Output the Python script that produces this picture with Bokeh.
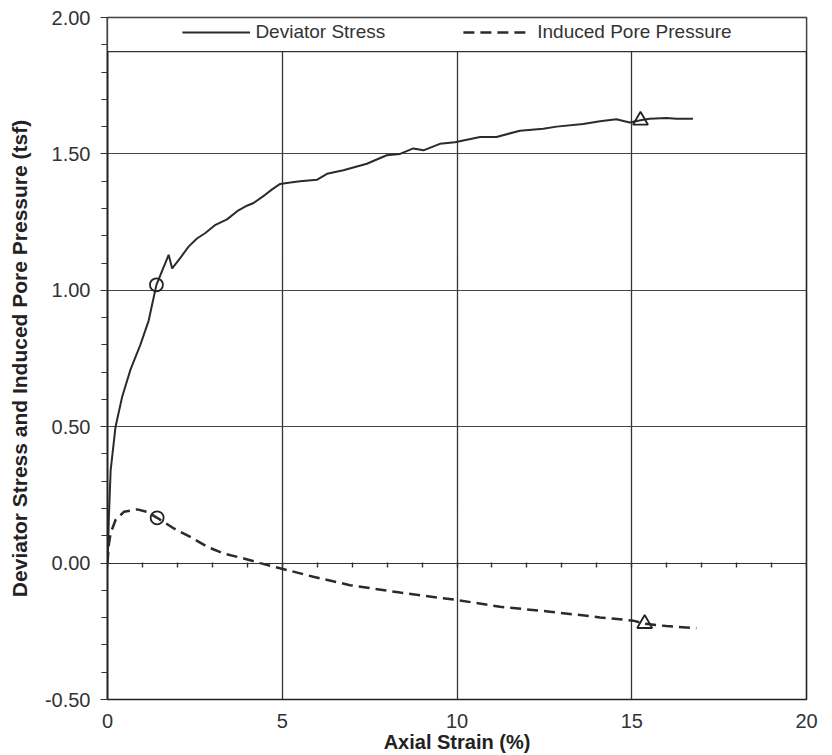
from bokeh.plotting import figure
from bokeh.models import (Range1d, LinearAxis, SingleIntervalTicker, NumeralTickFormatter,
                          Legend, LegendItem, BoxAnnotation, Grid)
from bokeh.embed import file_html
from bokeh.resources import INLINE

# Deviator stress (tsf) vs axial strain (%)
dev_strain = [0.0, 0.02, 0.04, 0.09, 0.23, 0.42, 0.66, 0.94, 1.18, 1.28, 1.40, 1.51, 1.75, 1.85,
              2.09, 2.32, 2.56, 2.80, 3.09, 3.42, 3.71, 3.99, 4.18, 4.51, 4.71, 4.94, 5.23, 5.51,
              5.99, 6.28, 6.75, 7.42, 7.99, 8.37, 8.75, 9.04, 9.51, 9.94, 10.66, 11.13, 11.80,
              12.47, 12.85, 13.61, 14.09, 14.56, 14.94, 15.25, 15.51, 15.99, 16.28, 16.75]
dev_stress = [0.0, 0.07, 0.17, 0.34, 0.50, 0.61, 0.71, 0.80, 0.89, 0.95, 1.02, 1.055, 1.13, 1.08,
              1.12, 1.16, 1.19, 1.21, 1.24, 1.26, 1.29, 1.31, 1.32, 1.35, 1.37, 1.39, 1.395, 1.40,
              1.405, 1.427, 1.44, 1.464, 1.495, 1.50, 1.52, 1.513, 1.537, 1.543, 1.562, 1.562, 1.585,
              1.592, 1.60, 1.61, 1.62, 1.627, 1.615, 1.623, 1.629, 1.632, 1.629, 1.629]

# Induced pore pressure (tsf) vs axial strain (%)
pore_strain = [0.0, 0.04, 0.09, 0.23, 0.47, 0.85, 1.13, 1.42, 1.90, 2.37, 2.85, 3.32, 3.90, 4.37,
               4.94, 5.89, 6.94, 8.37, 10.04, 11.23, 12.66, 14.09, 15.04, 15.37, 15.99, 16.85]
pore_pressure = [0.0, 0.07, 0.11, 0.158, 0.188, 0.197, 0.188, 0.166, 0.127, 0.096, 0.06, 0.035,
                 0.017, 0.0, -0.019, -0.05, -0.081, -0.108, -0.136, -0.16, -0.178, -0.199, -0.211,
                 -0.222, -0.231, -0.239]

# Marked points on each curve: circles and triangles
circle_strain = [1.40, 1.42]
circle_values = [1.02, 0.166]
triangle_strain = [15.25, 15.37]
triangle_values = [1.623, -0.222]

# Axis extents and tick spacing
x_limits = [0, 20]
y_limits = [-0.5, 2.0]
x_major_step = 5
y_major_step = 0.5
legend_band_bottom = 1.875

FONT = "Liberation Sans"
INK = "#2b2b2b"

p = figure(width=832, height=755, output_backend="svg", toolbar_location=None,
           x_range=Range1d(*x_limits), y_range=Range1d(*y_limits),
           x_axis_type=None, y_axis_type=None,
           min_border_left=107, min_border_right=26, min_border_top=17, min_border_bottom=56)
p.background_fill_color = "white"
p.border_fill_color = "white"
p.outline_line_color = "#222222"
p.outline_line_width = 1.6

# Left axis
yaxis = LinearAxis(ticker=SingleIntervalTicker(interval=y_major_step, num_minor_ticks=5),
                   formatter=NumeralTickFormatter(format="0.00"))
yaxis.axis_label = "Deviator Stress and Induced Pore Pressure (tsf)"
yaxis.axis_label_text_font = FONT
yaxis.axis_label_text_font_style = "bold"
yaxis.axis_label_text_font_size = "21px"
yaxis.axis_label_text_color = "#222222"
yaxis.axis_label_standoff = 11
yaxis.major_label_text_font = FONT
yaxis.major_label_text_font_size = "20px"
yaxis.major_label_text_color = "#333333"
yaxis.major_label_standoff = 10
yaxis.axis_line_color = "#222222"
yaxis.axis_line_width = 1.6
yaxis.major_tick_out = 7
yaxis.major_tick_in = 0
yaxis.minor_tick_out = 6
yaxis.minor_tick_in = 0
yaxis.major_tick_line_color = "#333333"
yaxis.minor_tick_line_color = "#333333"
p.add_layout(yaxis, "left")

# Bottom axis: labels only
xaxis = LinearAxis(ticker=SingleIntervalTicker(interval=x_major_step, num_minor_ticks=5))
xaxis.axis_label = "Axial Strain (%)"
xaxis.axis_label_text_font = FONT
xaxis.axis_label_text_font_style = "bold"
xaxis.axis_label_text_font_size = "20px"
xaxis.axis_label_text_color = "#222222"
xaxis.axis_label_standoff = 0
xaxis.major_label_text_font = FONT
xaxis.major_label_text_font_size = "20px"
xaxis.major_label_text_color = "#333333"
xaxis.major_label_standoff = 8
xaxis.axis_line_color = None
xaxis.major_tick_line_color = None
xaxis.minor_tick_line_color = None
p.add_layout(xaxis, "below")

# Tick marks carried on the zero line
zero_axis = LinearAxis(ticker=SingleIntervalTicker(interval=x_major_step, num_minor_ticks=5),
                       fixed_location=0)
zero_axis.major_label_text_alpha = 0
zero_axis.axis_line_color = "#333333"
zero_axis.axis_line_width = 1.2
zero_axis.major_tick_line_color = None
zero_axis.minor_tick_out = 4
zero_axis.minor_tick_in = 1
zero_axis.minor_tick_line_color = "#333333"
zero_axis.minor_tick_line_width = 1.4
p.add_layout(zero_axis, "below")

# Grid
p.add_layout(Grid(dimension=0, ticker=SingleIntervalTicker(interval=x_major_step),
                  grid_line_color="#333333", grid_line_width=1.3))
p.add_layout(Grid(dimension=1, ticker=SingleIntervalTicker(interval=y_major_step),
                  grid_line_color="#444444", grid_line_width=1.2))

# Legend band across the top of the plot area
p.add_layout(BoxAnnotation(bottom=legend_band_bottom, fill_color="white", fill_alpha=1.0,
                           line_color="#333333", line_width=1.3, line_alpha=1.0))

dev = p.line(dev_strain, dev_stress, line_color=INK, line_width=2.0)
pore = p.line(pore_strain, pore_pressure, line_color=INK, line_width=2.5, line_dash="11 6")

p.scatter(circle_strain, circle_values, marker="circle", size=13, fill_color=None,
          line_color="#222222", line_width=1.8)
p.scatter(triangle_strain, triangle_values, marker="triangle", size=15, fill_color=None,
          line_color="#222222", line_width=1.8)

legend = Legend(items=[LegendItem(label="Deviator Stress", renderers=[dev]),
                       LegendItem(label="Induced Pore Pressure", renderers=[pore])],
                location="top_center", orientation="horizontal",
                background_fill_alpha=0, border_line_alpha=0,
                margin=0, padding=4, spacing=78, glyph_width=68, label_standoff=6,
                label_text_font=FONT, label_text_font_size="19px", label_text_color="#333333")
p.add_layout(legend, "center")

open("out.html", "w").write(file_html(p, INLINE))
